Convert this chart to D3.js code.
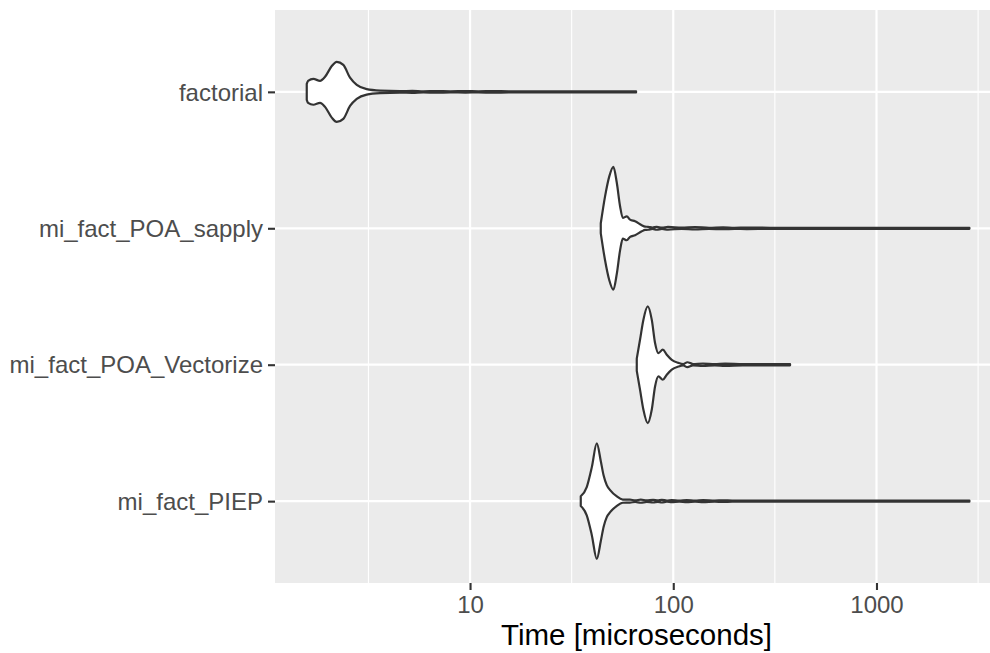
<!DOCTYPE html>
<html>
<head>
<meta charset="utf-8">
<script src="https://cdn.jsdelivr.net/npm/d3@7"></script>
<style>
  html, body { margin: 0; padding: 0; background: #ffffff; }
  svg { display: block; }
  text { font-family: "Liberation Sans", Arial, Helvetica, sans-serif; }
</style>
</head>
<body>
<svg id="chart" width="990" height="653"></svg>
<script>
// ---- data ----
const categories = ["factorial", "mi_fact_POA_sapply", "mi_fact_POA_Vectorize", "mi_fact_PIEP"];

// violin outlines: time (microseconds) and relative density (half-width)
const factorialTime    = [1.572, 1.596, 1.694, 1.827, 1.934, 2.087, 2.208, 2.379, 2.567, 2.77, 3.10, 3.61, 4.52, 5.2, 5.9, 6.8, 8.0, 9.5, 11.0, 13.0, 15.5, 20, 26, 35, 65.6];
const factorialDensity = [0.13, 0.18, 0.21, 0.18, 0.245, 0.42, 0.49, 0.44, 0.23, 0.114, 0.044, 0.02, 0.012, 0.016, 0.01, 0.014, 0.009, 0.012, 0.009, 0.014, 0.009, 0.01, 0.009, 0.009, 0.009];

const sapplyTime    = [43.98, 46.17, 48.48, 50.73, 52.72, 54.73, 56.44, 59.05, 61.30, 64.87, 69.98, 72.63, 75.2, 79, 82.9, 88, 94.2, 110, 128, 150, 175.8, 200, 230, 300, 2866];
const sapplyDensity = [0.08, 0.52, 0.85, 1.0, 0.745, 0.36, 0.17, 0.195, 0.14, 0.114, 0.05, 0.026, 0.024, 0.012, 0.024, 0.011, 0.022, 0.01, 0.02, 0.009, 0.016, 0.009, 0.013, 0.009, 0.009];

const vectorizeTime    = [66.13, 68.64, 71.26, 74.9, 78.4, 81.4, 84.5, 88.8, 92.9, 98.3, 106, 112, 117.3, 125, 140, 160, 180, 220, 375.6];
const vectorizeDensity = [0.10, 0.41, 0.73, 0.95, 0.73, 0.35, 0.19, 0.245, 0.163, 0.08, 0.03, 0.012, 0.04, 0.012, 0.02, 0.01, 0.018, 0.01, 0.01];

const piepTime    = [35.06, 37.52, 39.72, 42.04, 44.0, 45.4, 47.07, 48.9, 52.6, 56.4, 61.2, 65, 69.2, 74, 79.6, 84, 87.8, 93, 98.3, 107, 116.5, 128, 140.2, 160, 175.8, 195, 2866];
const piepDensity = [0.08, 0.23, 0.55, 0.94, 0.65, 0.42, 0.26, 0.18, 0.08, 0.026, 0.024, 0.012, 0.026, 0.012, 0.022, 0.011, 0.022, 0.01, 0.018, 0.01, 0.018, 0.009, 0.015, 0.009, 0.014, 0.009, 0.009];

const xTickValues = [10, 100, 1000];
const xTickLabels = ["10", "100", "1000"];
const xLimits = [1.097, 3619];
const xTitle = "Time [microseconds]";

// ---- layout ----
const W = 990, H = 653;
const panel = { left: 275, right: 990, top: 10, bottom: 583 };

const svg = d3.select("#chart");

const x = d3.scaleLog().domain(xLimits).range([panel.left, panel.right]);
const y = d3.scalePoint().domain(categories).range([panel.top, panel.bottom]).padding(0.6);
const halfW = d3.scaleLinear().domain([0, 1]).range([0, 0.45 * y.step()]);

// panel background
svg.append("rect")
  .attr("x", panel.left).attr("y", panel.top)
  .attr("width", panel.right - panel.left).attr("height", panel.bottom - panel.top)
  .attr("fill", "#EBEBEB");

const grid = svg.append("g");
// minor vertical grid (log midpoints)
const lo = Math.log10(xLimits[0]), hi = Math.log10(xLimits[1]);
const minor = [];
for (let e = Math.floor(lo); e <= Math.ceil(hi); e++) {
  const v = Math.pow(10, e + 0.5);
  if (v > xLimits[0] && v < xLimits[1]) minor.push(v);
}
grid.selectAll("line.minor").data(minor).enter().append("line")
  .attr("x1", d => x(d)).attr("x2", d => x(d))
  .attr("y1", panel.top).attr("y2", panel.bottom)
  .attr("stroke", "#ffffff").attr("stroke-width", 1.1);
// major vertical grid
grid.selectAll("line.majx").data(xTickValues).enter().append("line")
  .attr("x1", d => x(d)).attr("x2", d => x(d))
  .attr("y1", panel.top).attr("y2", panel.bottom)
  .attr("stroke", "#ffffff").attr("stroke-width", 2.2);
// major horizontal grid
grid.selectAll("line.majy").data(categories).enter().append("line")
  .attr("x1", panel.left).attr("x2", panel.right)
  .attr("y1", d => y(d)).attr("y2", d => y(d))
  .attr("stroke", "#ffffff").attr("stroke-width", 2.2);

// violins
const violins = [
  { cat: categories[0], t: factorialTime, d: factorialDensity },
  { cat: categories[1], t: sapplyTime, d: sapplyDensity },
  { cat: categories[2], t: vectorizeTime, d: vectorizeDensity },
  { cat: categories[3], t: piepTime, d: piepDensity }
];

violins.forEach(v => {
  const pts = v.t.map((t, i) => ({ t: t, d: v.d[i] }));
  const cy = y(v.cat);
  const area = d3.area()
    .x(p => x(p.t))
    .y0(p => cy + halfW(p.d))
    .y1(p => cy - halfW(p.d))
    .curve(d3.curveMonotoneX);
  svg.append("path")
    .attr("d", area(pts))
    .attr("fill", "#ffffff")
    .attr("stroke", "#333333")
    .attr("stroke-width", 2.2)
    .attr("stroke-linejoin", "round");
});

// y axis
const yAxis = d3.axisLeft(y).tickSize(7).tickPadding(5);
const gy = svg.append("g").attr("transform", `translate(${panel.left},0)`).call(yAxis);
gy.select(".domain").remove();
gy.selectAll(".tick line").attr("stroke", "#333333").attr("stroke-width", 2.1);
gy.selectAll(".tick text")
  .attr("fill", "#4D4D4D")
  .style("font-size", "24px")
  .attr("dy", "0.34em");

// x axis
const xAxis = d3.axisBottom(x).tickValues(xTickValues)
  .tickFormat((d, i) => xTickLabels[i]).tickSize(7).tickPadding(6);
const gx = svg.append("g").attr("transform", `translate(0,${panel.bottom})`).call(xAxis);
gx.select(".domain").remove();
gx.selectAll(".tick line").attr("stroke", "#333333").attr("stroke-width", 2.1);
gx.selectAll(".tick text")
  .attr("fill", "#4D4D4D")
  .style("font-size", "24px")
  .attr("dy", "0.71em");

// x title
svg.append("text")
  .attr("x", (panel.left + panel.right) / 2 + 4)
  .attr("y", 645)
  .attr("text-anchor", "middle")
  .attr("fill", "#000000")
  .style("font-size", "29.5px")
  .text(xTitle);
</script>
</body>
</html>
